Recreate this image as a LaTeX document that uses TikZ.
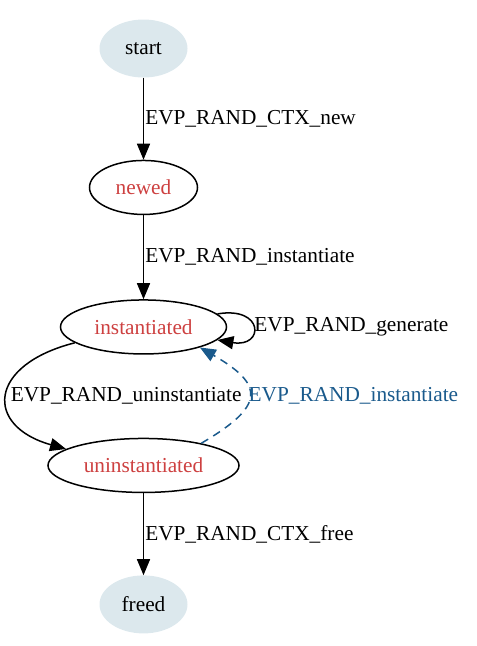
\documentclass[tikz,border=0pt]{standalone}
\usepackage{fontspec}
\setmainfont{Liberation Serif}
\usetikzlibrary{shapes.geometric,arrows.meta,positioning}

\definecolor{statered}{RGB}{205,64,64}
\definecolor{backblue}{RGB}{26,90,140}
\definecolor{endfill}{RGB}{220,232,237}

\begin{document}
\begin{tikzpicture}[
    x=1pt, y=-1pt,
    font=\fontsize{21.3}{25}\selectfont,
    statebox/.style={ellipse, draw=black, line width=1.5pt, text=statered, inner sep=0pt, minimum height=54pt},
    endbox/.style={ellipse, fill=endfill, inner sep=0pt, minimum width=88pt, minimum height=58pt},
    trans/.style={-{Triangle[length=16pt,width=13pt]}, line width=1.5pt},
    translbl/.style={anchor=west, inner sep=1pt}
]
    \useasboundingbox (0,0) rectangle (477,646);

    % states of the DRBG context
    \node[endbox] (start) at (143.5,48.5) {start};
    \node[statebox, minimum width=108pt, below=82pt of start] (newed) {newed};
    \node[statebox, minimum width=166pt, below=84pt of newed] (inst) {instantiated};
    \node[statebox, minimum width=191pt, below=83pt of inst] (uninst) {uninstantiated};
    \node[endbox, below=82pt of uninst] (freed) {freed};

    % transitions
    \draw[trans] (start) -- node[translbl] {EVP\_RAND\_CTX\_new} (newed);
    \draw[trans] (newed) -- node[translbl] {EVP\_RAND\_instantiate} (inst);
    \draw[trans] (inst.10) .. controls +(47,-8) and +(47,8) .. node[translbl] {EVP\_RAND\_generate} (inst.350);
    \draw[trans] (inst.193) .. controls +(-87,22) and +(-82,-23) .. node[translbl, xshift=2pt] {EVP\_RAND\_uninstantiate} (uninst.168);
    \draw[trans, draw=backblue, dash pattern=on 8pt off 6pt] (uninst.21) .. controls +(63,-37) and +(66,38) .. node[translbl, inner sep=0pt, xshift=-1pt, text=backblue] {EVP\_RAND\_instantiate} (inst.340);
    \draw[trans] (uninst) -- node[translbl] {EVP\_RAND\_CTX\_free} (freed);

\end{tikzpicture}
\end{document}
